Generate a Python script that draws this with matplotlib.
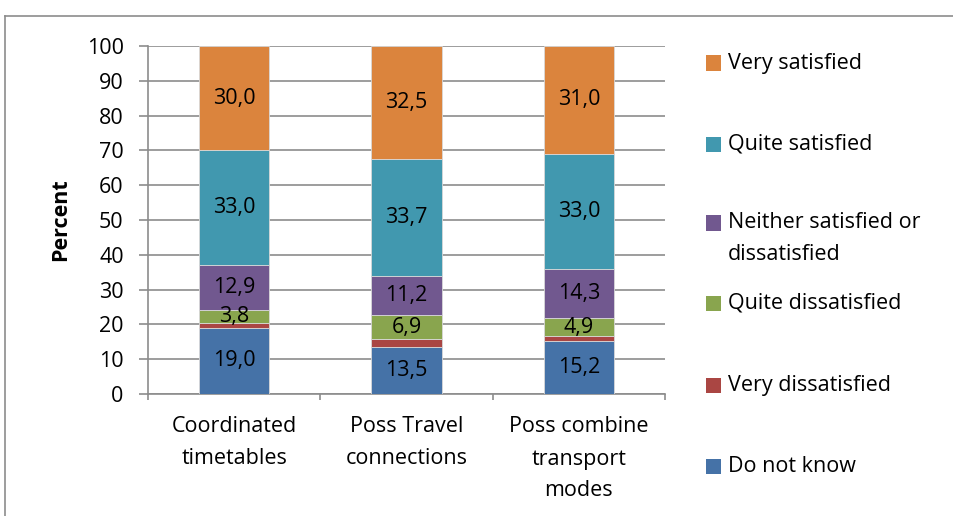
import matplotlib
matplotlib.use("Agg")
import matplotlib.pyplot as plt
from matplotlib.patches import Rectangle
from matplotlib.lines import Line2D
import numpy as np

plt.rcParams['font.family'] = ['Open Sans', 'DejaVu Sans']

categories = ["Coordinated\ntimetables", "Poss Travel\nconnections", "Poss combine\ntransport\nmodes"]
series_names = ["Do not know", "Very dissatisfied", "Quite dissatisfied",
                "Neither satisfied or\ndissatisfied", "Quite satisfied", "Very satisfied"]
do_not_know = [19.0, 13.5, 15.2]
very_dissatisfied = [1.3, 2.2, 1.6]
quite_dissatisfied = [3.8, 6.9, 4.9]
neither = [12.9, 11.2, 14.3]
quite_satisfied = [33.0, 33.7, 33.0]
very_satisfied = [30.0, 32.5, 31.0]
colors = ["#4572A7", "#AA4643", "#89A54E", "#71588F", "#4198AF", "#DB843D"]
show_labels = [True, False, True, True, True, True]
yticks = list(range(0, 101, 10))

series = [do_not_know, very_dissatisfied, quite_dissatisfied, neither, quite_satisfied, very_satisfied]

FS = 15.5
W, H = 954, 516
PT = 72 / 100  # points per pixel
fig = plt.figure(figsize=(W / 100, H / 100), dpi=100)
ax = fig.add_axes([148 / W, 122 / H, (665 - 148) / W, (394 - 46) / H])

x = np.arange(len(categories))
bottom = np.zeros(len(categories))
for vals, col, show in zip(series, colors, show_labels):
    vals = np.array(vals)
    ax.bar(x, vals, 0.41, bottom=bottom, color=col, edgecolor="#d8d8d8", linewidth=0.6, zorder=3)
    if show:
        for xi, b, v in zip(x, bottom, vals):
            ax.text(xi, b + v / 2, f"{v:.1f}".replace(".", ","), ha="center", va="center",
                    fontsize=FS, color="black", zorder=4)
    bottom += vals

ax.set_xlim(-0.5, len(categories) - 0.5)
ax.set_ylim(0, 100)
ax.set_yticks(yticks)
ax.set_yticklabels([str(t) for t in yticks], fontsize=FS)
ax.yaxis.grid(True, color="#8c8c8c", linewidth=1.2, zorder=0)
ax.set_axisbelow(True)
for s in ["top", "right"]:
    ax.spines[s].set_visible(False)
for s in ["left", "bottom"]:
    ax.spines[s].set_color("#8c8c8c")
    ax.spines[s].set_linewidth(1.2)
ax.tick_params(axis="y", length=6.5, color="#8c8c8c", width=1.2, pad=11)

ax.set_xticks(np.arange(-0.5, len(categories), 1.0))
ax.set_xticklabels([])
ax.tick_params(axis="x", length=4.5, color="#8c8c8c", width=1.2)
for xi, c in zip(x, categories):
    for i, line in enumerate(c.split("\n")):
        ax.annotate(line, xy=(xi, 0), xycoords=("data", "axes fraction"),
                    xytext=(0, -(33 + 32 * i) * PT), textcoords="offset points",
                    ha="center", va="center", fontsize=FS)

ax.set_ylabel("Percent", fontsize=FS, fontweight="bold")
ax.yaxis.set_label_coords((71 - 148) / (665 - 148), 0.5)

# figure border
fig.add_artist(Line2D([5 / W, 1.0], [1 - 16 / H, 1 - 16 / H], transform=fig.transFigure,
                      color="#8c8c8c", linewidth=1.2))
fig.add_artist(Line2D([5 / W, 5 / W], [0, 1 - 16 / H], transform=fig.transFigure,
                      color="#8c8c8c", linewidth=1.2))

# legend (top to bottom: reversed series order)
ys = [63, 144, 223, 303, 385, 466]
for name, col, yp in zip(series_names[::-1], colors[::-1], ys):
    fig.add_artist(Rectangle((706 / W, 1 - (yp + 7.5) / H), 15 / W, 15 / H,
                             transform=fig.transFigure, facecolor=col, edgecolor="none"))
    for i, line in enumerate(name.split("\n")):
        fig.text(728 / W, 1 - (yp + 32 * i) / H, line, ha="left", va="center", fontsize=FS)

fig.savefig("out.png", dpi=100)
